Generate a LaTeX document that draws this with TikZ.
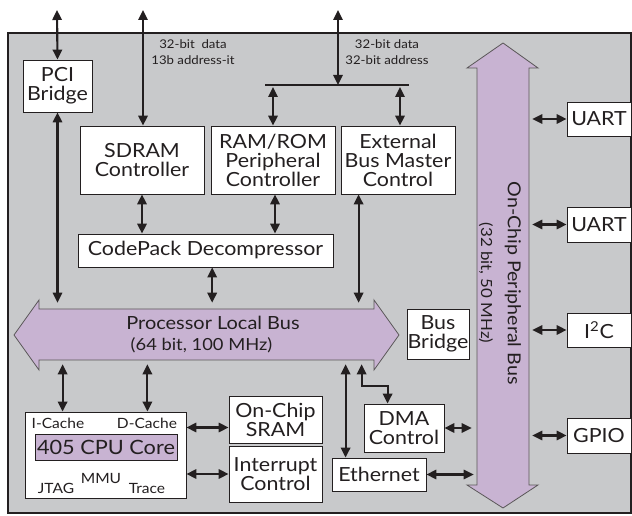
\documentclass[tikz,border=0pt]{standalone}
\usepackage{fontspec}
\setmainfont{Lato}[FakeStretch=1.1]
\usepackage{tikz}
\usetikzlibrary{arrows.meta,positioning}
\definecolor{socgray}{HTML}{C8C9CB}
\definecolor{buspurple}{HTML}{C8B3D2}
\definecolor{inkgray}{HTML}{231F20}
\tikzset{
 blk/.style={draw=inkgray,fill=white,line width=0.6pt,inner sep=0pt,align=center,font=\fontsize{14.6}{14.3}\selectfont},
 note/.style={align=center,inner sep=0pt,font=\fontsize{9}{11.5}\selectfont},
 cpulbl/.style={inner sep=0pt,font=\fontsize{10.6}{10.6}\selectfont},
 busbody/.style={fill=buspurple,draw=inkgray!75,line width=0.6pt},
 link/.style={{Triangle[length=7.5pt,width=7pt]}-{Triangle[length=7.5pt,width=7pt]},line width=1.6pt,draw=inkgray},
}

\begin{document}
\begin{tikzpicture}[x=0.75pt,y=-0.75pt,text=inkgray]
 \useasboundingbox (0,0) rectangle (632,516);
 \filldraw[fill=socgray,draw=inkgray,line width=0.8pt] (8,33) rectangle (631,513);

 \filldraw[busbody] (14,335) -- (39,300) -- (39,309) -- (374,309) -- (374,300) -- (399,335) -- (374,370) -- (374,360) -- (39,360) -- (39,370) -- cycle;
 \node[minimum width=251.25pt,minimum height=38.25pt,inner sep=0pt] (plb) at (206.5,334.5) {};
 \node[anchor=base,inner sep=0pt,font=\fontsize{13.6}{13.6}\selectfont] (plbname) at (213,330) {Processor Local Bus};
 \node[anchor=base,inner sep=0pt,font=\fontsize{12.5}{12.5}\selectfont] (plbrate) at (201.5,351) {(64 bit, 100 MHz)};

 \filldraw[busbody] (503,43) -- (538,68) -- (529,68) -- (529,485) -- (538,485) -- (503,508) -- (467,485) -- (477,485) -- (477,68) -- (467,68) -- cycle;
 \node[minimum width=39pt,minimum height=312.75pt,inner sep=0pt] (opb) at (503,276.5) {};
 \node[rotate=-90,inner sep=0pt,font=\fontsize{13.4}{13.4}\selectfont] (opbname) at (513,283) {On-Chip Peripheral Bus};
 \node[rotate=-90,inner sep=0pt,font=\fontsize{11.5}{11.5}\selectfont] (opbrate) at (486,283) {(32 bit, 50 MHz)};

 \node[blk,minimum width=51.75pt,minimum height=39pt] (pci) at (57.5,86) {PCI\\Bridge};
 \node[blk,minimum width=93pt,minimum height=51pt] (sdram) at (142,160) {SDRAM\\Controller};
 \node[blk,minimum width=93pt,minimum height=51pt] (ramrom) at (273,160) {RAM/ROM\\Peripheral\\Controller};
 \node[blk,minimum width=85.5pt,minimum height=51pt] (ebm) at (398,160) {External\\Bus Master\\Control};
 \node[blk,minimum width=191.25pt,minimum height=24.75pt] (codepack) at (205.5,250.5) {CodePack Decompressor};
 \node[blk,minimum width=46.5pt,minimum height=37.5pt] (busbridge) at (438,334) {Bus\\Bridge};
 \node[blk,minimum width=120.75pt,minimum height=64.5pt] (cpu) at (105.5,455) {};
 \node[blk,fill=buspurple,minimum width=106.5pt,minimum height=19.5pt,font=\fontsize{14.8}{14.8}\selectfont] (core) at (106,447) {405 CPU Core};
 \node[cpulbl] (icache) at (58,423) {I-Cache};
 \node[cpulbl] (dcache) at (147,423) {D-Cache};
 \node[cpulbl] (mmu) at (101,478) {MMU};
 \node[cpulbl] (jtag) at (56,488) {JTAG};
 \node[cpulbl] (trace) at (147,488) {Trace};
 \node[blk,minimum width=69.75pt,minimum height=35.25pt] (sram) at (275.5,419.5) {On-Chip\\SRAM};
 \node[blk,minimum width=69.75pt,minimum height=42pt] (intc) at (275.5,474) {Interrupt\\Control};
 \node[blk,minimum width=60pt,minimum height=36pt] (dma) at (404,428) {DMA\\Control};
 \node[blk,minimum width=70.5pt,minimum height=24.75pt] (eth) at (379,474.5) {Ethernet};
 \node[blk,minimum width=48pt,minimum height=25.5pt] (uart1) at (599,119) {UART};
 \node[blk,minimum width=48pt,minimum height=26.25pt] (uart2) at (599,224.5) {UART};
 \node[blk,minimum width=48pt,minimum height=25.5pt] (iic) at (599,330) {I\textsuperscript{2}C};
 \node[blk,minimum width=48pt,minimum height=26.25pt] (gpio) at (599,435.5) {GPIO};

 \node[note] (sdnote) at (193,52) {32-bit\ \ data\\13b address-it};
 \node[note] (extnote) at (387,52) {32-bit data\\32-bit address};

 \coordinate (pcitop) at (57,10);
 \coordinate (sdtop) at (143,10);
 \coordinate (exttop) at (338,10);
 \coordinate (extl) at (265,85);
 \coordinate (extr) at (409,85);
 \draw[line width=1.6pt,inkgray] (extl) -- (extr);

 \draw[link] (pcitop) -- (pci.north);
 \draw[link] (sdtop) -- (sdtop |- sdram.north);
 \draw[link] (exttop) -- (exttop |- extl);
 \draw[link,shorten <=1.5pt] (ramrom.north |- extl) -- (ramrom.north);
 \draw[link,shorten <=1.5pt] ([xshift=1.5pt]ebm.north |- extl) -- ([xshift=1.5pt]ebm.north);
 \draw[link,shorten >=4.5pt] (pci.south) -- (pci.south |- plb.north);
 \draw[link] (sdram.south) -- (sdram.south |- codepack.north);
 \draw[link] ([xshift=1.5pt]ramrom.south) -- ([xshift=1.5pt]ramrom.south |- codepack.north);
 \draw[link,shorten >=4.5pt] ([xshift=5pt]codepack.south) -- ([xshift=5pt]codepack.south |- plb.north);
 \draw[link,shorten >=4.5pt] ([xshift=13.5pt]ebm.south west) -- ([xshift=13.5pt]ebm.south west |- plb.north);
 \draw[link,shorten <=3pt] ([xshift=28.5pt]cpu.north west |- plb.south) -- ([xshift=28.5pt]cpu.north west);
 \draw[link,shorten <=3pt] ([xshift=-29.25pt]cpu.north east |- plb.south) -- ([xshift=-29.25pt]cpu.north east);
 \draw[link,shorten <=3pt] ([xshift=10.5pt]eth.north west |- plb.south) -- ([xshift=10.5pt]eth.north west);
 \draw[link,shorten <=3pt] ([xshift=-1.5pt]dma.north west |- plb.south) |- ([xshift=18pt,yshift=13.5pt]dma.north west) -- ([xshift=18pt]dma.north west);
 \draw[link] ([yshift=-6pt]sram.west -| cpu.east) -- ([yshift=-6pt]sram.west);
 \draw[link] (intc.west -| cpu.east) -- (intc.west);
 \draw[link,shorten >=3.75pt] (dma.east) -- (dma.east -| opb.west);
 \draw[link,shorten >=2.25pt] (eth.east) -- (eth.east -| opb.west);
 \draw[link,shorten <=2.25pt] (uart1.west -| opb.east) -- (uart1.west);
 \draw[link,shorten <=2.25pt] (uart2.west -| opb.east) -- (uart2.west);
 \draw[link,shorten <=2.25pt] (iic.west -| opb.east) -- (iic.west);
 \draw[link,shorten <=2.25pt] (gpio.west -| opb.east) -- (gpio.west);
\end{tikzpicture}
\end{document}
